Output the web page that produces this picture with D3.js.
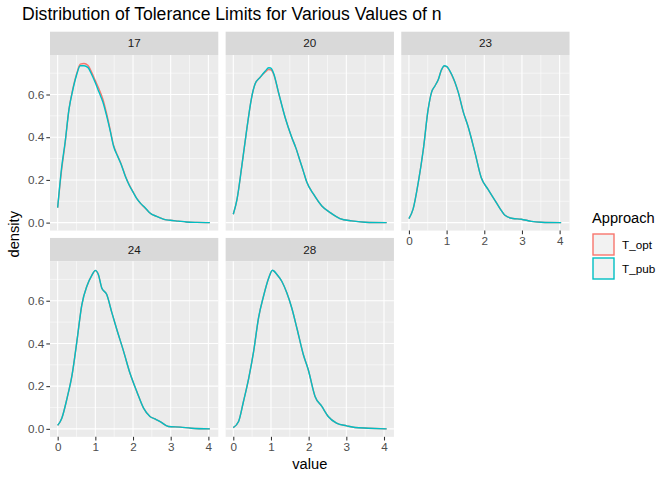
<!DOCTYPE html>
<html><head><meta charset="utf-8">
<script src="https://cdn.jsdelivr.net/npm/d3@7"></script>
<style>body{margin:0;background:#fff}svg{display:block;font-family:"Liberation Sans",Arial,sans-serif}</style>
</head><body><svg id="c" width="672" height="480"></svg>
<script>
const facets = ["17","20","23","24","28"];
const approaches = ["T_opt","T_pub"];
const colors = ["#F8766D","#00BFC4"];
const xTicks = [0,1,2,3,4];
const yTicks = [0,0.2,0.4,0.6];

const pub17 = [[0,0.07],[0.1,0.25],[0.2,0.38],[0.3,0.53],[0.4,0.62],[0.5,0.69],[0.6,0.735],[0.7,0.735],[0.8,0.727],[0.9,0.695],[1.0,0.655],[1.1,0.61],[1.2,0.565],[1.3,0.5],[1.4,0.425],[1.48,0.36],[1.58,0.315],[1.68,0.275],[1.8,0.215],[1.9,0.175],[2.01,0.14],[2.1,0.112],[2.2,0.09],[2.32,0.07],[2.42,0.05],[2.5,0.039],[2.6,0.031],[2.72,0.022],[2.85,0.014],[2.98,0.011],[3.2,0.007],[3.42,0.003],[3.7,0.001],[4.04,0]];
const opt17 = [[0,0.07],[0.1,0.24],[0.2,0.375],[0.3,0.53],[0.4,0.625],[0.5,0.695],[0.6,0.742],[0.7,0.745],[0.8,0.737],[0.9,0.705],[1.0,0.665],[1.1,0.625],[1.2,0.578],[1.3,0.51],[1.4,0.43],[1.48,0.365],[1.58,0.318],[1.68,0.277],[1.8,0.217],[1.9,0.177],[2.01,0.142],[2.1,0.113],[2.2,0.09],[2.32,0.068],[2.42,0.05],[2.5,0.039],[2.6,0.031],[2.72,0.022],[2.85,0.014],[2.98,0.011],[3.2,0.007],[3.42,0.003],[3.7,0.001],[4.04,0]];
const pub20 = [[0,0.039],[0.1,0.11],[0.23,0.27],[0.36,0.44],[0.48,0.58],[0.58,0.65],[0.71,0.68],[0.85,0.71],[0.94,0.725],[0.99,0.724],[1.07,0.70],[1.2,0.61],[1.38,0.49],[1.55,0.40],[1.66,0.35],[1.77,0.29],[1.86,0.24],[1.95,0.19],[2.13,0.133],[2.35,0.078],[2.57,0.047],[2.83,0.019],[3.14,0.008],[3.5,0.002],[4.07,0]];
const opt20 = [[0,0.039],[0.1,0.11],[0.23,0.27],[0.36,0.44],[0.48,0.58],[0.58,0.65],[0.71,0.68],[0.85,0.705],[0.94,0.717],[0.99,0.716],[1.07,0.695],[1.2,0.608],[1.38,0.49],[1.55,0.40],[1.66,0.35],[1.77,0.29],[1.86,0.24],[1.95,0.19],[2.13,0.133],[2.35,0.078],[2.57,0.047],[2.83,0.019],[3.14,0.008],[3.5,0.002],[4.07,0]];
const pub23 = [[0,0.019],[0.11,0.063],[0.25,0.19],[0.38,0.34],[0.51,0.53],[0.6,0.61],[0.69,0.64],[0.78,0.67],[0.86,0.715],[0.94,0.735],[1.0,0.732],[1.13,0.696],[1.31,0.61],[1.44,0.52],[1.57,0.45],[1.75,0.33],[1.92,0.21],[2.1,0.156],[2.32,0.094],[2.44,0.06],[2.54,0.036],[2.76,0.019],[2.98,0.016],[3.25,0.006],[3.51,0.002],[4.04,0]];
const opt23 = [[0,0.019],[0.11,0.063],[0.25,0.19],[0.38,0.34],[0.51,0.53],[0.6,0.61],[0.69,0.64],[0.78,0.67],[0.86,0.713],[0.94,0.733],[1.0,0.73],[1.13,0.694],[1.31,0.61],[1.44,0.52],[1.57,0.45],[1.75,0.33],[1.92,0.21],[2.1,0.156],[2.32,0.094],[2.44,0.06],[2.54,0.036],[2.76,0.019],[2.98,0.016],[3.25,0.006],[3.51,0.002],[4.04,0]];
const pub24 = [[0,0.016],[0.11,0.05],[0.25,0.144],[0.38,0.25],[0.51,0.41],[0.64,0.58],[0.78,0.67],[0.91,0.72],[1.0,0.742],[1.08,0.723],[1.17,0.66],[1.3,0.63],[1.44,0.543],[1.57,0.465],[1.75,0.363],[1.92,0.26],[2.1,0.175],[2.28,0.097],[2.45,0.058],[2.6,0.045],[2.72,0.034],[2.94,0.011],[3.25,0.008],[3.55,0.003],[4.04,0]];
const opt24 = [[0,0.016],[0.11,0.05],[0.25,0.144],[0.38,0.25],[0.51,0.41],[0.64,0.58],[0.78,0.67],[0.91,0.72],[1.0,0.741],[1.08,0.722],[1.17,0.66],[1.3,0.63],[1.44,0.543],[1.57,0.465],[1.75,0.363],[1.92,0.26],[2.1,0.175],[2.28,0.097],[2.45,0.058],[2.6,0.045],[2.72,0.034],[2.94,0.011],[3.25,0.008],[3.55,0.003],[4.04,0]];
const pub28 = [[0,0.006],[0.14,0.034],[0.27,0.128],[0.41,0.238],[0.54,0.363],[0.67,0.52],[0.8,0.62],[0.94,0.707],[1.04,0.743],[1.16,0.723],[1.29,0.69],[1.42,0.637],[1.55,0.567],[1.69,0.47],[1.86,0.347],[1.99,0.277],[2.17,0.152],[2.35,0.105],[2.52,0.058],[2.74,0.027],[3.01,0.014],[3.23,0.006],[3.58,0.003],[4.07,0]];
const opt28 = [[0,0.006],[0.14,0.034],[0.27,0.128],[0.41,0.238],[0.54,0.363],[0.67,0.52],[0.8,0.62],[0.94,0.706],[1.04,0.742],[1.16,0.722],[1.29,0.69],[1.42,0.637],[1.55,0.567],[1.69,0.47],[1.86,0.347],[1.99,0.277],[2.17,0.152],[2.35,0.105],[2.52,0.058],[2.74,0.027],[3.01,0.014],[3.23,0.006],[3.58,0.003],[4.07,0]];

const series = {"17":[opt17,pub17],"20":[opt20,pub20],"23":[opt23,pub23],"24":[opt24,pub24],"28":[opt28,pub28]};

const svg = d3.select("#c");
const panelW = 168.3, panelH = 175.6, gap = 7.33, stripH = 23.3;
const left0 = 50, top0 = 31.7;
const xDom = [-0.2035, 4.2635], yDom = [-0.0374, 0.785];

svg.append("text").attr("x",22).attr("y",20).attr("font-size",17.6).attr("fill","#000")
  .text("Distribution of Tolerance Limits for Various Values of n");

facets.forEach((f,i)=>{
  const col = i%3, row = Math.floor(i/3);
  const px = left0 + col*(panelW+gap);
  const sy = top0 + row*(stripH+panelH+gap);
  const py = sy + stripH;
  const x = d3.scaleLinear().domain(xDom).range([px, px+panelW]);
  const y = d3.scaleLinear().domain(yDom).range([py+panelH, py]);
  const g = svg.append("g");
  g.append("rect").attr("x",px).attr("y",sy).attr("width",panelW).attr("height",stripH).attr("fill","#D9D9D9");
  g.append("text").attr("x",px+panelW/2).attr("y",sy+stripH/2+4).attr("text-anchor","middle")
    .attr("font-size",11.7).attr("fill","#1A1A1A").text(f);
  g.append("rect").attr("x",px).attr("y",py).attr("width",panelW).attr("height",panelH).attr("fill","#EBEBEB");
  [0.5,1.5,2.5,3.5].forEach(v=>g.append("line").attr("x1",x(v)).attr("x2",x(v)).attr("y1",py).attr("y2",py+panelH).attr("stroke","#fff").attr("stroke-width",0.53));
  [0.1,0.3,0.5,0.7].forEach(v=>g.append("line").attr("y1",y(v)).attr("y2",y(v)).attr("x1",px).attr("x2",px+panelW).attr("stroke","#fff").attr("stroke-width",0.53));
  xTicks.forEach(v=>g.append("line").attr("x1",x(v)).attr("x2",x(v)).attr("y1",py).attr("y2",py+panelH).attr("stroke","#fff").attr("stroke-width",1.07));
  yTicks.forEach(v=>g.append("line").attr("y1",y(v)).attr("y2",y(v)).attr("x1",px).attr("x2",px+panelW).attr("stroke","#fff").attr("stroke-width",1.07));
  const line = d3.line().x(d=>x(d[0])).y(d=>y(d[1])).curve(d3.curveMonotoneX);
  series[f].forEach((s,k)=>{
    g.append("path").attr("d",line(s)).attr("fill","none").attr("stroke",colors[k]).attr("stroke-width",1.4).attr("stroke-linejoin","round");
  });
  // axes
  if (col===0) {
    const ya = d3.axisLeft(y).tickValues(yTicks).tickFormat(d3.format(".1f")).tickSize(3.67).tickPadding(2.2);
    const ag = svg.append("g").attr("transform",`translate(${px},0)`).call(ya);
    ag.select(".domain").remove();
    ag.selectAll("line").attr("stroke","#333").attr("stroke-width",1.07);
    ag.selectAll("text").attr("fill","#4D4D4D").attr("font-size",11.7).attr("font-family","Liberation Sans, Arial, sans-serif");
  }
  if (row===1 || i===2) {
    const xa = d3.axisBottom(x).tickValues(xTicks).tickFormat(d3.format("d")).tickSize(3.67).tickPadding(2.2);
    const ag = svg.append("g").attr("transform",`translate(0,${py+panelH})`).call(xa);
    ag.select(".domain").remove();
    ag.selectAll("line").attr("stroke","#333").attr("stroke-width",1.07);
    ag.selectAll("text").attr("fill","#4D4D4D").attr("font-size",11.7).attr("font-family","Liberation Sans, Arial, sans-serif");
  }
});

svg.append("text").attr("x",left0 + (3*panelW+2*gap)/2).attr("y",469).attr("text-anchor","middle").attr("font-size",14.67).text("value");
svg.append("text").attr("transform",`translate(19,${top0 + (2*(stripH+panelH)+gap)/2}) rotate(-90)`).attr("text-anchor","middle").attr("font-size",14.67).text("density");

// legend
svg.append("text").attr("x",592).attr("y",223).attr("font-size",14.67).text("Approach");
approaches.forEach((a,k)=>{
  const ky = 234 + k*24;
  svg.append("rect").attr("x",593).attr("y",ky).attr("width",21).attr("height",21).attr("fill","#F2F2F2").attr("stroke",colors[k]).attr("stroke-width",1.4);
  svg.append("text").attr("x",622).attr("y",ky+10.5+4).attr("font-size",11.7).text(a);
});
</script></body></html>
